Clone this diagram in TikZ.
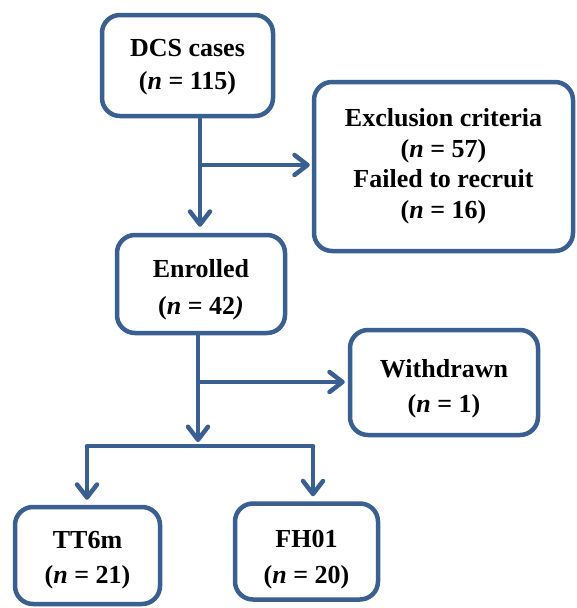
\documentclass[tikz,border=0pt]{standalone}
\usepackage{fontspec}
\setmainfont{Liberation Serif}
\usetikzlibrary{arrows.meta}
\definecolor{boxblue}{RGB}{58,96,146}
\tikzset{
  box/.style={draw=boxblue, line width=4.5pt, rounded corners=18pt, fill=white,
    align=center, inner sep=0pt, font=\bfseries\fontsize{26}{33}\selectfont},
  conn/.style={draw=boxblue, line width=4.5pt},
  arr/.style={conn, -{Straight Barb[length=13pt,width=20pt,line cap=round,line join=round]}}
}
\newcommand{\nn}{\textit{n}}
\newcommand{\lowr}[2]{\raisebox{-#1}[\height][\depth]{\begin{tabular}{@{}c@{}}#2\end{tabular}}}
\begin{document}
\begin{tikzpicture}[x=1pt,y=-1pt]
\useasboundingbox (0,0) rectangle (577,608);
\node[box, minimum width=171pt, minimum height=101pt] (dcs) at (187.5,65.5)
  {\lowr{1pt}{DCS cases\\(\nn{} = 115)}};
\node[box, minimum width=259pt, minimum height=169pt,
  font=\bfseries\fontsize{26}{30.7}\selectfont] (excl) at (443.5,166.5)
  {\lowr{0pt}{Exclusion criteria\\(\nn{} = 57)\\Failed to recruit\\(\nn{} = 16)}};
\node[box, minimum width=168pt, minimum height=98pt,
  font=\bfseries\fontsize{26}{37}\selectfont] (enr) at (201,284)
  {\lowr{5pt}{Enrolled\\(\nn{} = 42\textit{)}}};
\node[box, minimum width=188pt, minimum height=105pt,
  font=\bfseries\fontsize{26}{35}\selectfont] (wd) at (444,382.5)
  {\lowr{5pt}{Withdrawn\\(\nn{} = 1)}};
\node[box, minimum width=145pt, minimum height=97pt,
  font=\bfseries\fontsize{26}{35}\selectfont] (tt) at (87.5,555.5)
  {\lowr{3pt}{TT6m\\(\nn{} = 21)}};
\node[box, minimum width=143pt, minimum height=96pt,
  font=\bfseries\fontsize{26}{36}\selectfont] (fh) at (306.5,551.5)
  {\lowr{7pt}{FH01\\(\nn{} = 20)}};
% connectors
\coordinate (b1) at (200,165);
\coordinate (b2) at (198,382);
\coordinate (hl) at (87,446);
\coordinate (hr) at (313,446);
\draw[arr, shorten >=6pt] (dcs.south -| b1) -- (enr.north -| b1);
\draw[arr, shorten >=2pt] (b1) -- (b1 -| excl.west);
\draw[arr] (enr.south -| b2) -- (198,442);
\draw[arr, shorten >=3pt] (b2) -- (b2 -| wd.west);
\draw[conn, line cap=round, line join=round] (hl) -- (hr);
\draw[arr, shorten >=5pt] (hl) -- (hl |- tt.north);
\draw[arr, shorten >=5pt] (hr) -- (hr |- fh.north);
\end{tikzpicture}
\end{document}
